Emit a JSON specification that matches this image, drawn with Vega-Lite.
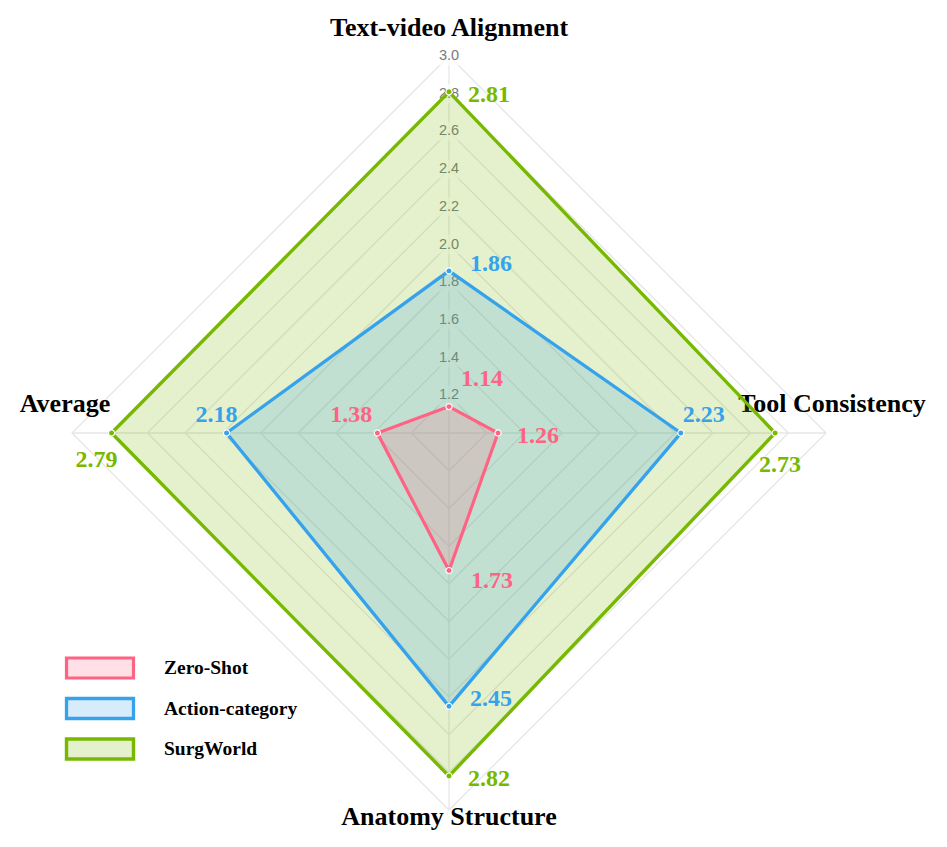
{
  "$schema": "https://vega.github.io/schema/vega-lite/v6.json",
  "width": 754,
  "height": 754,
  "autosize": "none",
  "padding": {"left": 72, "top": 56, "right": 121, "bottom": 37},
  "background": "white",
  "config": {"view": {"stroke": null}},
  "datasets": {
    "scores": [
      {"series": "SurgWorld", "axis": "Text-video Alignment", "value": 2.81},
      {"series": "SurgWorld", "axis": "Tool Consistency", "value": 2.73},
      {"series": "SurgWorld", "axis": "Anatomy Structure", "value": 2.82},
      {"series": "SurgWorld", "axis": "Average", "value": 2.79},
      {"series": "Action-category", "axis": "Text-video Alignment", "value": 1.86},
      {"series": "Action-category", "axis": "Tool Consistency", "value": 2.23},
      {"series": "Action-category", "axis": "Anatomy Structure", "value": 2.45},
      {"series": "Action-category", "axis": "Average", "value": 2.18},
      {"series": "Zero-Shot", "axis": "Text-video Alignment", "value": 1.14},
      {"series": "Zero-Shot", "axis": "Tool Consistency", "value": 1.26},
      {"series": "Zero-Shot", "axis": "Anatomy Structure", "value": 1.73},
      {"series": "Zero-Shot", "axis": "Average", "value": 1.38}
    ],
    "grid": [
      {"value": 1.2, "axis": ["Text-video Alignment", "Tool Consistency", "Anatomy Structure", "Average"]},
      {"value": 1.4, "axis": ["Text-video Alignment", "Tool Consistency", "Anatomy Structure", "Average"]},
      {"value": 1.6, "axis": ["Text-video Alignment", "Tool Consistency", "Anatomy Structure", "Average"]},
      {"value": 1.8, "axis": ["Text-video Alignment", "Tool Consistency", "Anatomy Structure", "Average"]},
      {"value": 2.0, "axis": ["Text-video Alignment", "Tool Consistency", "Anatomy Structure", "Average"]},
      {"value": 2.2, "axis": ["Text-video Alignment", "Tool Consistency", "Anatomy Structure", "Average"]},
      {"value": 2.4, "axis": ["Text-video Alignment", "Tool Consistency", "Anatomy Structure", "Average"]},
      {"value": 2.6, "axis": ["Text-video Alignment", "Tool Consistency", "Anatomy Structure", "Average"]},
      {"value": 2.8, "axis": ["Text-video Alignment", "Tool Consistency", "Anatomy Structure", "Average"]},
      {"value": 3.0, "axis": ["Text-video Alignment", "Tool Consistency", "Anatomy Structure", "Average"]}
    ]
  },
  "layer": [
    {
      "data": {"name": "grid"},
      "transform": [
        {"flatten": ["axis"]},
        {"calculate": "indexof(['Text-video Alignment','Tool Consistency','Anatomy Structure','Average'], datum.axis)", "as": "k"},
        {"calculate": "datum.value - 1", "as": "r"},
        {"calculate": "datum.k == 1 ? datum.r : (datum.k == 3 ? -datum.r : 0)", "as": "px"},
        {"calculate": "datum.k == 0 ? datum.r : (datum.k == 2 ? -datum.r : 0)", "as": "py"}
      ],
      "mark": {"type": "line", "interpolate": "linear-closed", "stroke": "#e6e6e6", "strokeWidth": 1.3},
      "encoding": {
        "x": {"field": "px", "type": "quantitative", "scale": {"domain": [-2, 2], "nice": false, "zero": false}, "axis": null},
        "y": {"field": "py", "type": "quantitative", "scale": {"domain": [-2, 2], "nice": false, "zero": false}, "axis": null},
        "detail": {"field": "value", "type": "nominal"},
        "order": {"field": "k", "type": "quantitative"}
      }
    },
    {
      "data": {"name": "grid"},
      "transform": [
        {"filter": "datum.value == 3"},
        {"flatten": ["axis"]},
        {"calculate": "indexof(['Text-video Alignment','Tool Consistency','Anatomy Structure','Average'], datum.axis)", "as": "k"},
        {"calculate": "datum.value - 1", "as": "r"},
        {"calculate": "datum.k == 1 ? datum.r : (datum.k == 3 ? -datum.r : 0)", "as": "px"},
        {"calculate": "datum.k == 0 ? datum.r : (datum.k == 2 ? -datum.r : 0)", "as": "py"}
      ],
      "mark": {"type": "rule", "stroke": "#e6e6e6", "strokeWidth": 1.3},
      "encoding": {
        "x": {"field": "px", "type": "quantitative", "scale": {"domain": [-2, 2], "nice": false, "zero": false}, "axis": null},
        "y": {"field": "py", "type": "quantitative", "scale": {"domain": [-2, 2], "nice": false, "zero": false}, "axis": null},
        "x2": {"datum": 0},
        "y2": {"datum": 0}
      }
    },
    {
      "data": {"name": "grid"},
      "transform": [
        {"calculate": "datum.value - 1", "as": "py"},
        {"calculate": "0", "as": "px"}
      ],
      "mark": {"type": "point", "shape": "M-1,-0.68H1V0.68H-1Z", "size": 784, "filled": true, "fill": "white", "opacity": 0.7, "strokeWidth": 0},
      "encoding": {
        "x": {"field": "px", "type": "quantitative", "scale": {"domain": [-2, 2], "nice": false, "zero": false}, "axis": null},
        "y": {"field": "py", "type": "quantitative", "scale": {"domain": [-2, 2], "nice": false, "zero": false}, "axis": null}
      }
    },
    {
      "data": {"name": "grid"},
      "transform": [
        {"calculate": "datum.value - 1", "as": "py"},
        {"calculate": "0", "as": "px"}
      ],
      "mark": {"type": "text", "font": "Liberation Sans", "fontSize": 14.5, "fill": "#7a7a7a", "align": "center", "baseline": "middle"},
      "encoding": {
        "x": {"field": "px", "type": "quantitative", "scale": {"domain": [-2, 2], "nice": false, "zero": false}, "axis": null},
        "y": {"field": "py", "type": "quantitative", "scale": {"domain": [-2, 2], "nice": false, "zero": false}, "axis": null},
        "text": {"field": "value", "type": "quantitative", "format": ".1f"}
      }
    },
    {
      "data": {"name": "grid"},
      "transform": [
        {"filter": "datum.value == 3"},
        {"flatten": ["axis"]},
        {"filter": "datum.axis == 'Text-video Alignment'"},
        {"calculate": "datum.value - 1", "as": "py"},
        {"calculate": "0", "as": "px"}
      ],
      "mark": {"type": "text", "font": "Liberation Serif", "fontWeight": "bold", "fontSize": 26, "fill": "#000000", "align": "center", "baseline": "alphabetic", "dy": -20},
      "encoding": {
        "x": {"field": "px", "type": "quantitative", "scale": {"domain": [-2, 2], "nice": false, "zero": false}, "axis": null},
        "y": {"field": "py", "type": "quantitative", "scale": {"domain": [-2, 2], "nice": false, "zero": false}, "axis": null},
        "text": {"field": "axis", "type": "nominal"}
      }
    },
    {
      "data": {"name": "grid"},
      "transform": [
        {"filter": "datum.value == 3"},
        {"flatten": ["axis"]},
        {"filter": "datum.axis == 'Anatomy Structure'"},
        {"calculate": "1 - datum.value", "as": "py"},
        {"calculate": "0", "as": "px"}
      ],
      "mark": {"type": "text", "font": "Liberation Serif", "fontWeight": "bold", "fontSize": 26, "fill": "#000000", "align": "center", "baseline": "alphabetic", "dy": 15},
      "encoding": {
        "x": {"field": "px", "type": "quantitative", "scale": {"domain": [-2, 2], "nice": false, "zero": false}, "axis": null},
        "y": {"field": "py", "type": "quantitative", "scale": {"domain": [-2, 2], "nice": false, "zero": false}, "axis": null},
        "text": {"field": "axis", "type": "nominal"}
      }
    },
    {
      "data": {"name": "grid"},
      "transform": [
        {"filter": "datum.value == 3"},
        {"flatten": ["axis"]},
        {"filter": "datum.axis == 'Tool Consistency'"},
        {"calculate": "datum.value - 1", "as": "px"},
        {"calculate": "0", "as": "py"}
      ],
      "mark": {"type": "text", "font": "Liberation Serif", "fontWeight": "bold", "fontSize": 26, "fill": "#000000", "align": "center", "baseline": "alphabetic", "dx": 6, "dy": -21},
      "encoding": {
        "x": {"field": "px", "type": "quantitative", "scale": {"domain": [-2, 2], "nice": false, "zero": false}, "axis": null},
        "y": {"field": "py", "type": "quantitative", "scale": {"domain": [-2, 2], "nice": false, "zero": false}, "axis": null},
        "text": {"field": "axis", "type": "nominal"}
      }
    },
    {
      "data": {"name": "grid"},
      "transform": [
        {"filter": "datum.value == 3"},
        {"flatten": ["axis"]},
        {"filter": "datum.axis == 'Average'"},
        {"calculate": "1 - datum.value", "as": "px"},
        {"calculate": "0", "as": "py"}
      ],
      "mark": {"type": "text", "font": "Liberation Serif", "fontWeight": "bold", "fontSize": 26, "fill": "#000000", "align": "center", "baseline": "alphabetic", "dx": -7, "dy": -21},
      "encoding": {
        "x": {"field": "px", "type": "quantitative", "scale": {"domain": [-2, 2], "nice": false, "zero": false}, "axis": null},
        "y": {"field": "py", "type": "quantitative", "scale": {"domain": [-2, 2], "nice": false, "zero": false}, "axis": null},
        "text": {"field": "axis", "type": "nominal"}
      }
    },
    {
      "data": {"name": "scores"},
      "transform": [
        {"calculate": "indexof(['Text-video Alignment','Tool Consistency','Anatomy Structure','Average'], datum.axis)", "as": "k"},
        {"calculate": "datum.value - 1", "as": "r"},
        {"calculate": "datum.k == 1 ? datum.r : (datum.k == 3 ? -datum.r : 0)", "as": "px"},
        {"calculate": "datum.k == 0 ? datum.r : (datum.k == 2 ? -datum.r : 0)", "as": "py"}
      ],
      "mark": {"type": "line", "interpolate": "linear-closed", "fillOpacity": 0.2},
      "encoding": {
        "x": {"field": "px", "type": "quantitative", "scale": {"domain": [-2, 2], "nice": false, "zero": false}, "axis": null},
        "y": {"field": "py", "type": "quantitative", "scale": {"domain": [-2, 2], "nice": false, "zero": false}, "axis": null},
        "order": {"field": "k", "type": "quantitative"},
        "stroke": {
          "field": "series", "type": "nominal",
          "scale": {"domain": ["Zero-Shot", "Action-category", "SurgWorld"], "range": ["#ff6384", "#36a2eb", "#76b900"]},
          "legend": {
            "orient": "none", "legendX": 16, "legendY": 600, "title": null,
            "symbolType": "M-3.35,-1H3.35V1H-3.35Z", "symbolSize": 400, "symbolStrokeWidth": 3.8,
            "labelFont": "Liberation Serif", "labelFontWeight": "bold", "labelFontSize": 19.5, "labelColor": "#000000",
            "labelOffset": 52, "rowPadding": 6.5, "labelLimit": 300,
            "encode": {"symbols": {"update": {"fill": {"scale": "stroke", "field": "value"}, "fillOpacity": {"value": 0.2}, "strokeWidth": {"value": 3.8}, "opacity": {"value": 1}}}}
          }
        },
        "fill": {
          "field": "series", "type": "nominal",
          "scale": {"domain": ["Zero-Shot", "Action-category", "SurgWorld"], "range": ["#ff6384", "#36a2eb", "#76b900"]},
          "legend": {
            "orient": "none", "legendX": 16, "legendY": 600, "title": null,
            "symbolType": "M-3.35,-1H3.35V1H-3.35Z", "symbolSize": 400, "symbolStrokeWidth": 3.8,
            "labelFont": "Liberation Serif", "labelFontWeight": "bold", "labelFontSize": 19.5, "labelColor": "#000000",
            "labelOffset": 52, "rowPadding": 6.5, "labelLimit": 300,
            "encode": {"symbols": {"update": {"fill": {"scale": "stroke", "field": "value"}, "fillOpacity": {"value": 0.2}, "strokeWidth": {"value": 3.8}, "opacity": {"value": 1}}}}
          }
        },
        "strokeWidth": {
          "field": "series", "type": "nominal",
          "scale": {"domain": ["Zero-Shot", "Action-category", "SurgWorld"], "range": [3.2, 3.4, 4.2]}
        }
      }
    },
    {
      "data": {"name": "scores"},
      "transform": [
        {"calculate": "indexof(['Text-video Alignment','Tool Consistency','Anatomy Structure','Average'], datum.axis)", "as": "k"},
        {"calculate": "datum.value - 1", "as": "r"},
        {"calculate": "datum.k == 1 ? datum.r : (datum.k == 3 ? -datum.r : 0)", "as": "px"},
        {"calculate": "datum.k == 0 ? datum.r : (datum.k == 2 ? -datum.r : 0)", "as": "py"}
      ],
      "mark": {"type": "circle", "size": 38, "stroke": "white", "strokeWidth": 1.2, "opacity": 1},
      "encoding": {
        "x": {"field": "px", "type": "quantitative", "scale": {"domain": [-2, 2], "nice": false, "zero": false}, "axis": null},
        "y": {"field": "py", "type": "quantitative", "scale": {"domain": [-2, 2], "nice": false, "zero": false}, "axis": null},
        "fill": {"field": "series", "type": "nominal"}
      }
    },
    {
      "data": {"name": "scores"},
      "transform": [
        {"filter": "(datum.series == 'SurgWorld' && (datum.axis == 'Text-video Alignment' || datum.axis == 'Anatomy Structure')) || (datum.series == 'Zero-Shot' && datum.axis == 'Tool Consistency')"},
        {"calculate": "indexof(['Text-video Alignment','Tool Consistency','Anatomy Structure','Average'], datum.axis)", "as": "k"},
        {"calculate": "datum.value - 1", "as": "r"},
        {"calculate": "datum.k == 1 ? datum.r : (datum.k == 3 ? -datum.r : 0)", "as": "px"},
        {"calculate": "datum.k == 0 ? datum.r : (datum.k == 2 ? -datum.r : 0)", "as": "py"}
      ],
      "mark": {"type": "text", "font": "Liberation Serif", "fontWeight": "bold", "fontSize": 24, "align": "left", "baseline": "alphabetic", "dx": 19, "dy": 10},
      "encoding": {
        "x": {"field": "px", "type": "quantitative", "scale": {"domain": [-2, 2], "nice": false, "zero": false}, "axis": null},
        "y": {"field": "py", "type": "quantitative", "scale": {"domain": [-2, 2], "nice": false, "zero": false}, "axis": null},
        "text": {"field": "value", "type": "quantitative", "format": ".2f"},
        "fill": {"field": "series", "type": "nominal"}
      }
    },
    {
      "data": {"name": "scores"},
      "transform": [
        {"filter": "datum.series == 'Action-category' && (datum.axis == 'Text-video Alignment' || datum.axis == 'Anatomy Structure')"},
        {"calculate": "indexof(['Text-video Alignment','Tool Consistency','Anatomy Structure','Average'], datum.axis)", "as": "k"},
        {"calculate": "datum.value - 1", "as": "r"},
        {"calculate": "datum.k == 1 ? datum.r : (datum.k == 3 ? -datum.r : 0)", "as": "px"},
        {"calculate": "datum.k == 0 ? datum.r : (datum.k == 2 ? -datum.r : 0)", "as": "py"}
      ],
      "mark": {"type": "text", "font": "Liberation Serif", "fontWeight": "bold", "fontSize": 24, "align": "left", "baseline": "alphabetic", "dx": 21, "dy": 0},
      "encoding": {
        "x": {"field": "px", "type": "quantitative", "scale": {"domain": [-2, 2], "nice": false, "zero": false}, "axis": null},
        "y": {"field": "py", "type": "quantitative", "scale": {"domain": [-2, 2], "nice": false, "zero": false}, "axis": null},
        "text": {"field": "value", "type": "quantitative", "format": ".2f"},
        "fill": {"field": "series", "type": "nominal"}
      }
    },
    {
      "data": {"name": "scores"},
      "transform": [
        {"filter": "datum.series == 'Zero-Shot' && datum.axis == 'Anatomy Structure'"},
        {"calculate": "indexof(['Text-video Alignment','Tool Consistency','Anatomy Structure','Average'], datum.axis)", "as": "k"},
        {"calculate": "datum.value - 1", "as": "r"},
        {"calculate": "datum.k == 1 ? datum.r : (datum.k == 3 ? -datum.r : 0)", "as": "px"},
        {"calculate": "datum.k == 0 ? datum.r : (datum.k == 2 ? -datum.r : 0)", "as": "py"}
      ],
      "mark": {"type": "text", "font": "Liberation Serif", "fontWeight": "bold", "fontSize": 24, "align": "left", "baseline": "alphabetic", "dx": 22, "dy": 17},
      "encoding": {
        "x": {"field": "px", "type": "quantitative", "scale": {"domain": [-2, 2], "nice": false, "zero": false}, "axis": null},
        "y": {"field": "py", "type": "quantitative", "scale": {"domain": [-2, 2], "nice": false, "zero": false}, "axis": null},
        "text": {"field": "value", "type": "quantitative", "format": ".2f"},
        "fill": {"field": "series", "type": "nominal"}
      }
    },
    {
      "data": {"name": "scores"},
      "transform": [
        {"filter": "datum.series == 'Zero-Shot' && datum.axis == 'Text-video Alignment'"},
        {"calculate": "indexof(['Text-video Alignment','Tool Consistency','Anatomy Structure','Average'], datum.axis)", "as": "k"},
        {"calculate": "datum.value - 1", "as": "r"},
        {"calculate": "datum.k == 1 ? datum.r : (datum.k == 3 ? -datum.r : 0)", "as": "px"},
        {"calculate": "datum.k == 0 ? datum.r : (datum.k == 2 ? -datum.r : 0)", "as": "py"}
      ],
      "mark": {"type": "text", "font": "Liberation Serif", "fontWeight": "bold", "fontSize": 24, "align": "left", "baseline": "alphabetic", "dx": 12, "dy": -21},
      "encoding": {
        "x": {"field": "px", "type": "quantitative", "scale": {"domain": [-2, 2], "nice": false, "zero": false}, "axis": null},
        "y": {"field": "py", "type": "quantitative", "scale": {"domain": [-2, 2], "nice": false, "zero": false}, "axis": null},
        "text": {"field": "value", "type": "quantitative", "format": ".2f"},
        "fill": {"field": "series", "type": "nominal"}
      }
    },
    {
      "data": {"name": "scores"},
      "transform": [
        {"filter": "datum.series == 'Zero-Shot' && datum.axis == 'Average'"},
        {"calculate": "indexof(['Text-video Alignment','Tool Consistency','Anatomy Structure','Average'], datum.axis)", "as": "k"},
        {"calculate": "datum.value - 1", "as": "r"},
        {"calculate": "datum.k == 1 ? datum.r : (datum.k == 3 ? -datum.r : 0)", "as": "px"},
        {"calculate": "datum.k == 0 ? datum.r : (datum.k == 2 ? -datum.r : 0)", "as": "py"}
      ],
      "mark": {"type": "text", "font": "Liberation Serif", "fontWeight": "bold", "fontSize": 24, "align": "right", "baseline": "alphabetic", "dx": -5, "dy": -11},
      "encoding": {
        "x": {"field": "px", "type": "quantitative", "scale": {"domain": [-2, 2], "nice": false, "zero": false}, "axis": null},
        "y": {"field": "py", "type": "quantitative", "scale": {"domain": [-2, 2], "nice": false, "zero": false}, "axis": null},
        "text": {"field": "value", "type": "quantitative", "format": ".2f"},
        "fill": {"field": "series", "type": "nominal"}
      }
    },
    {
      "data": {"name": "scores"},
      "transform": [
        {"filter": "datum.series == 'Action-category' && datum.axis == 'Average'"},
        {"calculate": "indexof(['Text-video Alignment','Tool Consistency','Anatomy Structure','Average'], datum.axis)", "as": "k"},
        {"calculate": "datum.value - 1", "as": "r"},
        {"calculate": "datum.k == 1 ? datum.r : (datum.k == 3 ? -datum.r : 0)", "as": "px"},
        {"calculate": "datum.k == 0 ? datum.r : (datum.k == 2 ? -datum.r : 0)", "as": "py"}
      ],
      "mark": {"type": "text", "font": "Liberation Serif", "fontWeight": "bold", "fontSize": 24, "align": "center", "baseline": "alphabetic", "dx": -10, "dy": -11},
      "encoding": {
        "x": {"field": "px", "type": "quantitative", "scale": {"domain": [-2, 2], "nice": false, "zero": false}, "axis": null},
        "y": {"field": "py", "type": "quantitative", "scale": {"domain": [-2, 2], "nice": false, "zero": false}, "axis": null},
        "text": {"field": "value", "type": "quantitative", "format": ".2f"},
        "fill": {"field": "series", "type": "nominal"}
      }
    },
    {
      "data": {"name": "scores"},
      "transform": [
        {"filter": "datum.series == 'Action-category' && datum.axis == 'Tool Consistency'"},
        {"calculate": "indexof(['Text-video Alignment','Tool Consistency','Anatomy Structure','Average'], datum.axis)", "as": "k"},
        {"calculate": "datum.value - 1", "as": "r"},
        {"calculate": "datum.k == 1 ? datum.r : (datum.k == 3 ? -datum.r : 0)", "as": "px"},
        {"calculate": "datum.k == 0 ? datum.r : (datum.k == 2 ? -datum.r : 0)", "as": "py"}
      ],
      "mark": {"type": "text", "font": "Liberation Serif", "fontWeight": "bold", "fontSize": 24, "align": "center", "baseline": "alphabetic", "dx": 23, "dy": -11},
      "encoding": {
        "x": {"field": "px", "type": "quantitative", "scale": {"domain": [-2, 2], "nice": false, "zero": false}, "axis": null},
        "y": {"field": "py", "type": "quantitative", "scale": {"domain": [-2, 2], "nice": false, "zero": false}, "axis": null},
        "text": {"field": "value", "type": "quantitative", "format": ".2f"},
        "fill": {"field": "series", "type": "nominal"}
      }
    },
    {
      "data": {"name": "scores"},
      "transform": [
        {"filter": "datum.series == 'SurgWorld' && datum.axis == 'Average'"},
        {"calculate": "indexof(['Text-video Alignment','Tool Consistency','Anatomy Structure','Average'], datum.axis)", "as": "k"},
        {"calculate": "datum.value - 1", "as": "r"},
        {"calculate": "datum.k == 1 ? datum.r : (datum.k == 3 ? -datum.r : 0)", "as": "px"},
        {"calculate": "datum.k == 0 ? datum.r : (datum.k == 2 ? -datum.r : 0)", "as": "py"}
      ],
      "mark": {"type": "text", "font": "Liberation Serif", "fontWeight": "bold", "fontSize": 24, "align": "center", "baseline": "alphabetic", "dx": -15, "dy": 34},
      "encoding": {
        "x": {"field": "px", "type": "quantitative", "scale": {"domain": [-2, 2], "nice": false, "zero": false}, "axis": null},
        "y": {"field": "py", "type": "quantitative", "scale": {"domain": [-2, 2], "nice": false, "zero": false}, "axis": null},
        "text": {"field": "value", "type": "quantitative", "format": ".2f"},
        "fill": {"field": "series", "type": "nominal"}
      }
    },
    {
      "data": {"name": "scores"},
      "transform": [
        {"filter": "datum.series == 'SurgWorld' && datum.axis == 'Tool Consistency'"},
        {"calculate": "indexof(['Text-video Alignment','Tool Consistency','Anatomy Structure','Average'], datum.axis)", "as": "k"},
        {"calculate": "datum.value - 1", "as": "r"},
        {"calculate": "datum.k == 1 ? datum.r : (datum.k == 3 ? -datum.r : 0)", "as": "px"},
        {"calculate": "datum.k == 0 ? datum.r : (datum.k == 2 ? -datum.r : 0)", "as": "py"}
      ],
      "mark": {"type": "text", "font": "Liberation Serif", "fontWeight": "bold", "fontSize": 24, "align": "center", "baseline": "alphabetic", "dx": 5, "dy": 39},
      "encoding": {
        "x": {"field": "px", "type": "quantitative", "scale": {"domain": [-2, 2], "nice": false, "zero": false}, "axis": null},
        "y": {"field": "py", "type": "quantitative", "scale": {"domain": [-2, 2], "nice": false, "zero": false}, "axis": null},
        "text": {"field": "value", "type": "quantitative", "format": ".2f"},
        "fill": {"field": "series", "type": "nominal"}
      }
    }
  ]
}
